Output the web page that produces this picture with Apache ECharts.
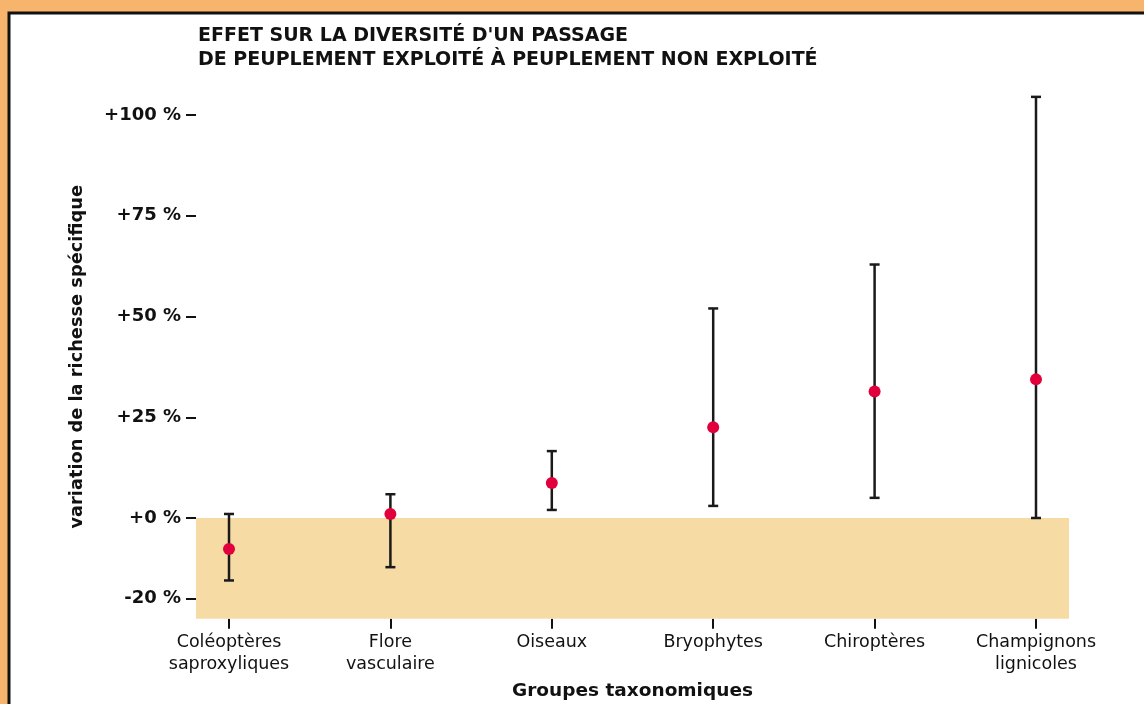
<!DOCTYPE html>
<html>
  <head>
    <meta charset="utf-8" />
    <title>Effet sur la diversité</title>
    <style>
      html,
      body {
        height: 100%;
        margin: 0;
        padding: 0;
        background: #f6b46c;
      }
      #chart-container {
        width: 1144px;
        height: 704px;
      }
    </style>
    <script src="https://cdn.jsdelivr.net/npm/echarts@6/dist/echarts.min.js"></script>
  </head>
  <body>
    <div id="chart-container"></div>

    <script>
      // données
      const categories = [
        "Coléoptères\nsaproxyliques",
        "Flore\nvasculaire",
        "Oiseaux",
        "Bryophytes",
        "Chiroptères",
        "Champignons\nlignicoles",
      ];
      const moyennes = [-7.7, 1, 8.7, 22.5, 31.4, 34.4];
      const bornesBasses = [-15.5, -12.2, 2, 3, 5, 0];
      const bornesHautes = [1, 5.9, 16.6, 52, 62.9, 104.5];
      const yTicks = [-20, 0, 25, 50, 75, 100];
      const positions = categories.map((c, i) => i);

      const font = "'DejaVu Sans', sans-serif";

      var myChart = echarts.init(
        document.getElementById("chart-container"),
        "",
        { renderer: "canvas" }
      );

      var option = {
        backgroundColor: "#f6b46c",
        animation: false,
        graphic: [
          {
            type: "rect",
            shape: { x: 9, y: 13, width: 1150, height: 700 },
            style: { fill: "#ffffff", stroke: "#111111", lineWidth: 3 },
            z: -10,
          },
          {
            type: "text",
            left: 198,
            top: 24,
            style: {
              text: "EFFET SUR LA DIVERSITÉ D'UN PASSAGE\nDE PEUPLEMENT EXPLOITÉ À PEUPLEMENT NON EXPLOITÉ",
              font: "bold 19px " + font,
              lineHeight: 24,
              fill: "#111111",
            },
          },
        ],
        grid: {
          left: 196,
          right: 75,
          top: 94.85,
          bottom: 85.25,
          outerBoundsMode: "none",
        },
        xAxis: {
          type: "value",
          min: -0.2045,
          max: 5.2045,
          splitLine: { show: false },
          axisLine: { show: false, onZero: false },
          axisTick: {
            show: true,
            customValues: positions,
            length: 10,
            lineStyle: { color: "#111111", width: 2 },
          },
          axisLabel: {
            customValues: positions,
            formatter: function (v) {
              return categories[Math.round(v)];
            },
            color: "#111111",
            fontFamily: font,
            fontSize: 17.5,
            lineHeight: 22,
            margin: 13,
          },
          name: "Groupes taxonomiques",
          nameLocation: "middle",
          nameGap: 63,
          nameTextStyle: {
            color: "#111111",
            fontFamily: font,
            fontSize: 18.5,
            fontWeight: "bold",
          },
        },
        yAxis: {
          type: "value",
          min: -25,
          max: 105,
          splitLine: { show: false },
          axisLine: { show: false, onZero: false },
          axisTick: {
            show: true,
            customValues: yTicks,
            length: 10,
            lineStyle: { color: "#111111", width: 2 },
          },
          axisLabel: {
            customValues: yTicks,
            formatter: function (v) {
              return (v >= 0 ? "+" : "") + v + " %";
            },
            color: "#111111",
            fontFamily: font,
            fontSize: 18,
            fontWeight: "bold",
            margin: 15,
          },
          name: "variation de la richesse spécifique",
          nameLocation: "middle",
          nameGap: 110,
          nameTextStyle: {
            color: "#111111",
            fontFamily: font,
            fontSize: 17.8,
            fontWeight: "bold",
          },
        },
        series: [
          {
            // zone négative
            type: "line",
            data: [],
            markArea: {
              silent: true,
              itemStyle: { color: "#f6dca4" },
              data: [[{ yAxis: -25 }, { yAxis: 0 }]],
            },
          },
          {
            type: "custom",
            data: positions.map((p, i) => [p, bornesBasses[i], bornesHautes[i]]),
            renderItem: function (params, api) {
              const lo = api.coord([api.value(0), api.value(1)]);
              const hi = api.coord([api.value(0), api.value(2)]);
              const cap = 5;
              const style = { stroke: "#1a1a1a", lineWidth: 2.5 };
              return {
                type: "group",
                children: [
                  { type: "line", shape: { x1: lo[0], y1: lo[1], x2: hi[0], y2: hi[1] }, style: style },
                  { type: "line", shape: { x1: lo[0] - cap, y1: lo[1], x2: lo[0] + cap, y2: lo[1] }, style: style },
                  { type: "line", shape: { x1: hi[0] - cap, y1: hi[1], x2: hi[0] + cap, y2: hi[1] }, style: style },
                ],
              };
            },
            z: 3,
          },
          {
            type: "scatter",
            data: positions.map((p, i) => [p, moyennes[i]]),
            symbolSize: 12,
            itemStyle: { color: "#e2003c", opacity: 1 },
            z: 5,
          },
        ],
      };
      myChart.setOption(option);
    </script>
  </body>
</html>
